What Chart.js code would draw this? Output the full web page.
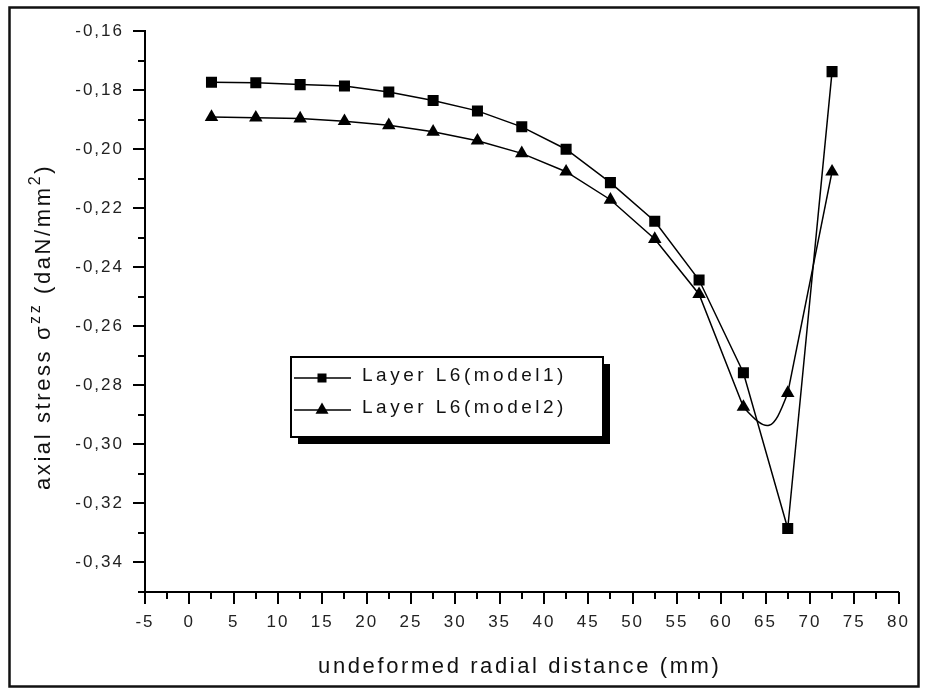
<!DOCTYPE html>
<html>
<head>
<meta charset="utf-8">
<script src="https://cdn.jsdelivr.net/npm/chart.js@4.4.0/dist/chart.umd.min.js"></script>
<style>
html,body{margin:0;padding:0;background:#ffffff;}
canvas{display:block;}
</style>
</head>
<body>
<canvas id="c" width="928" height="695"></canvas>
<script>
// ---------------- data ----------------
const xValues = [2.5, 7.5, 12.5, 17.5, 22.5, 27.5, 32.5, 37.5, 42.5, 47.5, 52.5, 57.5, 62.5, 67.5, 72.5];
const model1 = [-0.1773, -0.1775, -0.1781, -0.1786, -0.1806, -0.1835, -0.1870, -0.1924, -0.2000, -0.2113, -0.2244, -0.2443, -0.2757, -0.3285, -0.1737];
const model2 = [-0.1891, -0.1893, -0.1896, -0.1905, -0.1919, -0.1941, -0.1971, -0.2014, -0.2076, -0.2171, -0.2304, -0.2491, -0.2873, -0.2826, -0.2076];
const seriesLabels = ['Layer L6(model1)', 'Layer L6(model2)'];
const xTitle = 'undeformed radial distance (mm)';
const yTitleParts = [
  {t: 'axial stress \u03c3', sup: false},
  {t: 'zz', sup: true},
  {t: ' (daN/mm', sup: false},
  {t: '2', sup: true},
  {t: ')', sup: false}
];
const xMin = -5, xMax = 80, xStep = 2.5;
const yMin = -0.35, yMax = -0.16, yStep = 0.01;
const curvedSegmentStart = 12; // model2 segment drawn as a smooth curve (62.5 -> 67.5)

// ---------------- helpers ----------------
const FONT = '"Liberation Sans", Arial, sans-serif';
const toPoints = (ys) => xValues.map((x, i) => ({x: x, y: ys[i]}));
const TRANSPARENT = 'rgba(0,0,0,0)';

function setSpacing(ctx, v) {
  if ('letterSpacing' in ctx) ctx.letterSpacing = v;
}

const spacingPlugin = {
  id: 'spacing',
  beforeDraw(chart) { setSpacing(chart.ctx, '2px'); },
  beforeDatasetsDraw(chart) { setSpacing(chart.ctx, '0px'); }
};

const tickPlugin = {
  id: 'tickMarks',
  afterDraw(chart) {
    const ctx = chart.ctx;
    ctx.save();
    setSpacing(ctx, '0px');
    ctx.strokeStyle = '#000';
    ctx.lineWidth = 2;
    const ys = chart.scales.y, xs = chart.scales.x;
    ys.ticks.forEach((t, i) => {
      const p = Math.round(ys.getPixelForTick(i));
      const k = Math.round(t.value * 100);
      const len = (k % 2 === 0) ? 12 : 7;
      ctx.beginPath();
      ctx.moveTo(ys.right, p);
      ctx.lineTo(ys.right - len, p);
      ctx.stroke();
    });
    xs.ticks.forEach((t, i) => {
      const p = Math.round(xs.getPixelForTick(i));
      const k = Math.round(t.value * 2);
      const len = (k % 10 === 0) ? 12 : 7;
      ctx.beginPath();
      ctx.moveTo(p, xs.top);
      ctx.lineTo(p, xs.top + len);
      ctx.stroke();
    });
    ctx.restore();
  }
};

const titlePlugin = {
  id: 'titles',
  afterDraw(chart) {
    const ctx = chart.ctx;
    const ca = chart.chartArea;
    ctx.save();
    ctx.fillStyle = '#111';
    // x title
    ctx.font = '22px ' + FONT;
    setSpacing(ctx, '2.6px');
    ctx.textAlign = 'center';
    ctx.textBaseline = 'alphabetic';
    ctx.fillText(xTitle, (ca.left + ca.right) / 2 - 2, 673);
    // y title with superscripts
    ctx.translate(50, 327);
    ctx.rotate(-Math.PI / 2);
    ctx.textAlign = 'left';
    const mainFont = '22px ' + FONT, supFont = '16px ' + FONT;
    let total = 0;
    yTitleParts.forEach(p => {
      ctx.font = p.sup ? supFont : mainFont;
      total += ctx.measureText(p.t).width;
    });
    let cx = -total / 2;
    yTitleParts.forEach(p => {
      ctx.font = p.sup ? supFont : mainFont;
      ctx.fillText(p.t, cx, p.sup ? -10 : 0);
      cx += ctx.measureText(p.t).width;
    });
    ctx.restore();
  }
};

const legendPlugin = {
  id: 'boxLegend',
  afterDraw(chart) {
    const ctx = chart.ctx;
    const bx = 291, by = 357, bw = 312, bh = 80, sh = 7;
    ctx.save();
    setSpacing(ctx, '0px');
    ctx.fillStyle = '#000';
    ctx.fillRect(bx + sh, by + sh, bw, bh);
    ctx.fillStyle = '#fff';
    ctx.fillRect(bx, by, bw, bh);
    ctx.strokeStyle = '#000';
    ctx.lineWidth = 2;
    ctx.strokeRect(bx, by, bw, bh);
    const rows = [378, 410];
    [0, 1].forEach(di => {
      const ds = chart.data.datasets[di];
      const y = rows[di];
      ctx.strokeStyle = '#000';
      ctx.lineWidth = 1.5;
      ctx.beginPath();
      ctx.moveTo(294, y); ctx.lineTo(351, y);
      ctx.stroke();
      ctx.fillStyle = '#000';
      const mx = 322;
      if (ds.pointStyle === 'rect') {
        ctx.fillRect(mx - 4.5, y - 4.5, 9, 9);
      } else {
        const r = 7.5;
        ctx.beginPath();
        ctx.moveTo(mx, y - r);
        ctx.lineTo(mx + r * 0.866, y + r * 0.5);
        ctx.lineTo(mx - r * 0.866, y + r * 0.5);
        ctx.closePath();
        ctx.fill();
      }
      ctx.font = '19px ' + FONT;
      setSpacing(ctx, '3.5px');
      ctx.textAlign = 'left';
      ctx.textBaseline = 'middle';
      ctx.fillStyle = '#111';
      ctx.fillText(ds.label, 362, y - 2);
      setSpacing(ctx, '0px');
    });
    ctx.restore();
  }
};

const framePlugin = {
  id: 'frame',
  afterDraw(chart) {
    const ctx = chart.ctx;
    ctx.save();
    ctx.strokeStyle = '#111';
    ctx.lineWidth = 2.5;
    ctx.strokeRect(9.5, 7.5, 909, 679);
    ctx.restore();
  }
};

new Chart(document.getElementById('c'), {
  type: 'line',
  data: {
    datasets: [
      {
        label: seriesLabels[0],
        data: toPoints(model1),
        borderColor: '#000',
        backgroundColor: '#000',
        borderWidth: 1.5,
        pointStyle: 'rect',
        pointRadius: 7.8,
        pointBorderWidth: 0,
        pointBackgroundColor: '#000',
        tension: 0
      },
      {
        label: seriesLabels[1],
        data: toPoints(model2),
        borderColor: '#000',
        backgroundColor: '#000',
        borderWidth: 1.5,
        pointStyle: 'triangle',
        pointRadius: 7.8,
        pointBorderWidth: 0,
        pointBackgroundColor: '#000',
        tension: 0,
        segment: {
          borderColor: c => (c.p0DataIndex === curvedSegmentStart ? TRANSPARENT : '#000')
        }
      },
      {
        label: '',
        data: toPoints(model2),
        borderColor: '#000',
        borderWidth: 1.5,
        pointRadius: 0,
        tension: 1,
        segment: {
          borderColor: c => (c.p0DataIndex === curvedSegmentStart ? '#000' : TRANSPARENT)
        }
      }
    ]
  },
  options: {
    responsive: false,
    animation: false,
    events: [],
    layout: {padding: {left: 0, top: 27, right: 28, bottom: 0}},
    plugins: {
      legend: {display: false},
      tooltip: {enabled: false},
      title: {display: false}
    },
    scales: {
      x: {
        type: 'linear',
        min: xMin, max: xMax,
        afterFit: s => { s.height = 103; },
        grid: {display: false, drawTicks: false},
        border: {display: true, color: '#000', width: 2},
        ticks: {
          stepSize: xStep,
          autoSkip: false,
          maxRotation: 0,
          padding: 20,
          color: '#222',
          font: {family: FONT, size: 17},
          callback: v => (Math.round(v * 2) % 10 === 0 ? String(v) : '')
        }
      },
      y: {
        type: 'linear',
        min: yMin, max: yMax,
        afterFit: s => { s.width = 145; },
        grid: {display: false, drawTicks: false},
        border: {display: true, color: '#000', width: 2},
        ticks: {
          stepSize: yStep,
          autoSkip: false,
          padding: 21,
          color: '#222',
          font: {family: FONT, size: 17},
          callback: v => {
            const k = Math.round(v * 100);
            return (k % 2 === 0) ? (k / 100).toFixed(2).replace('.', ',') : '';
          }
        }
      }
    }
  },
  plugins: [spacingPlugin, tickPlugin, titlePlugin, legendPlugin, framePlugin]
});
</script>
</body>
</html>
